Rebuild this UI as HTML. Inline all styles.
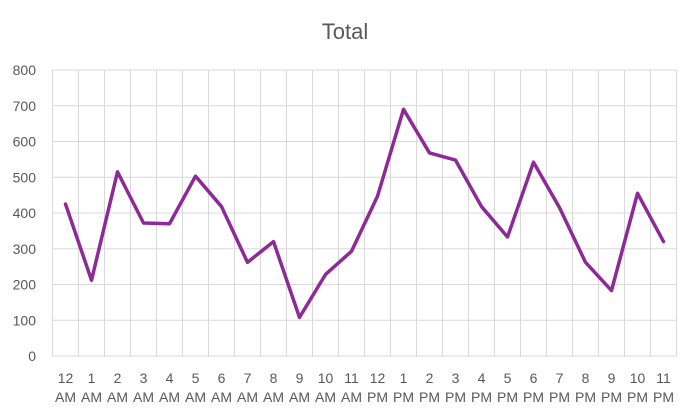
<!DOCTYPE html>
<html><head><style>
body{margin:0;background:#fff;}
text{font-family:"Liberation Sans",sans-serif;fill:#595959;}
</style></head><body>
<svg width="684" height="412" xmlns="http://www.w3.org/2000/svg">
<rect width="684" height="412" fill="#fff"/>
<text x="345" y="39" font-size="22" text-anchor="middle">Total</text>
<g id="g" stroke="#d9d9d9" stroke-width="1"></g>
<g id="l" font-size="14"></g>
<polyline id="p" fill="none" stroke="#8e2a97" stroke-width="3.5" stroke-linejoin="round" stroke-linecap="round"/>
</svg>
<script>
var L=52.5,W=26,T=70,Z=356,ns="http://www.w3.org/2000/svg";
var g=document.getElementById('g'),l=document.getElementById('l');
function el(p,t,a,txt){var e=document.createElementNS(ns,t);for(var k in a)e.setAttribute(k,a[k]);if(txt!=null)e.textContent=txt;p.appendChild(e);}
for(var i=0;i<=8;i++){var y=Z-i*(Z-T)/8;el(g,'line',{x1:L,x2:L+24*W,y1:y,y2:y});el(l,'text',{x:36,y:y+5,'text-anchor':'end'},i*100);}
for(var i=0;i<=24;i++){var x=L+i*W;el(g,'line',{x1:x,x2:x,y1:T,y2:Z});}
for(var i=0;i<24;i++){var x=L+i*W+W/2;var h=i%12==0?12:i%12;el(l,'text',{x:x,y:383,'text-anchor':'middle'},h);el(l,'text',{x:x,y:402,'text-anchor':'middle'},i<12?'AM':'PM');}
var d=[425,212,515,372,370,503,418,262,320,108,228,293,447,690,568,548,418,333,542,415,262,183,455,320];
document.getElementById('p').setAttribute('points',d.map(function(v,i){return (L+i*W+W/2)+','+(Z-v*(Z-T)/800)}).join(' '));
</script>
</body></html>
